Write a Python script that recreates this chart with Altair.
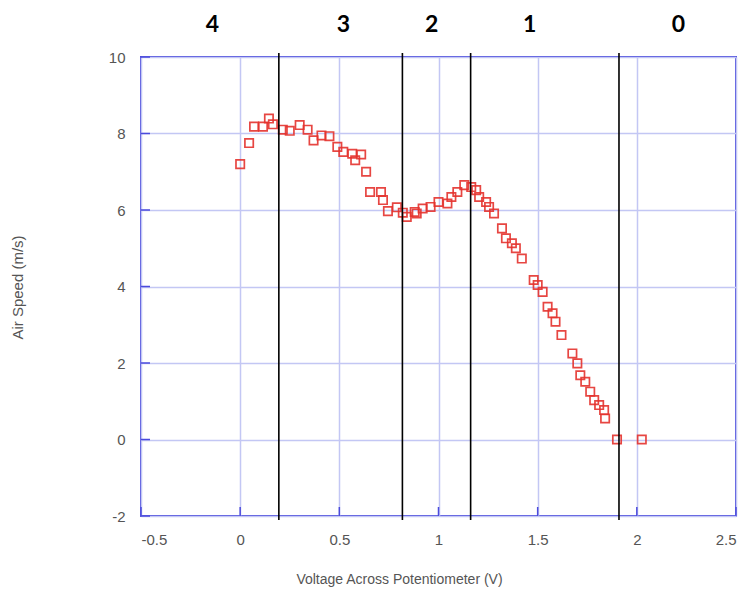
import altair as alt
import pandas as pd

# measured data (voltage V, air speed m/s)
volts = [0.0, 0.045, 0.07, 0.115, 0.145, 0.165, 0.215, 0.25, 0.30, 0.34, 0.37, 0.41, 0.45, 0.49,
         0.52, 0.565, 0.58, 0.61, 0.635, 0.655, 0.71, 0.72, 0.745, 0.79, 0.82, 0.84, 0.88, 0.89,
         0.92, 0.96, 1.0, 1.045, 1.065, 1.095, 1.13, 1.165, 1.19, 1.205, 1.24, 1.255, 1.28, 1.32,
         1.34, 1.37, 1.39, 1.42, 1.48, 1.50, 1.525, 1.55, 1.575, 1.59, 1.62, 1.675, 1.70, 1.715,
         1.74, 1.765, 1.785, 1.81, 1.835, 1.84, 1.90, 2.025]
speeds = [7.2, 7.75, 8.18, 8.18, 8.39, 8.24, 8.1, 8.07, 8.22, 8.1, 7.82, 7.95, 7.93, 7.65,
          7.52, 7.47, 7.3, 7.45, 7.0, 6.47, 6.47, 6.26, 5.97, 6.07, 5.93, 5.82, 5.95, 5.91,
          6.04, 6.08, 6.21, 6.17, 6.34, 6.47, 6.65, 6.6, 6.52, 6.34, 6.21, 6.08, 5.91, 5.52,
          5.26, 5.13, 5.0, 4.73, 4.17, 4.04, 3.86, 3.47, 3.3, 3.08, 2.73, 2.25, 1.99, 1.68,
          1.51, 1.25, 1.03, 0.9, 0.77, 0.55, 0.0, 0.0]

# region boundaries and region labels
boundaries = [0.195, 0.818, 1.162, 1.91]
region_x = [-0.14, 0.52, 0.965, 1.46, 2.21]
region_labels = ["4", "3", "2", "1", "0"]

x_ticks = [-0.5, 0, 0.5, 1, 1.5, 2, 2.5]
y_ticks = [-2, 0, 2, 4, 6, 8, 10]

W, H = 595, 459
FRAME = "#4b4bdc"
GRID = "#c3c7f4"
TXT = "#555555"

pts = pd.DataFrame({"v": volts, "s": speeds})
bnd = pd.DataFrame({"b": boundaries})
lab = pd.DataFrame({"x": region_x, "t": region_labels})
yt = pd.DataFrame({"y": y_ticks})
xt = pd.DataFrame({"x": x_ticks})

xscale = alt.Scale(domain=[-0.5, 2.5], nice=False, zero=False)
yscale = alt.Scale(domain=[-2, 10], nice=False, zero=False)

xaxis = alt.Axis(values=x_ticks, labelExpr="'' + datum.value", title="Voltage Across Potentiometer (V)",
                 grid=True, gridColor=GRID, gridWidth=1.5, ticks=False, domain=False,
                 labelPadding=16, labelFontSize=15, labelColor=TXT, labelFont="Liberation Sans",
                 titleFont="Liberation Sans", titleFontSize=14, titleFontWeight="normal",
                 titleColor=TXT, titleX=258, titleY=63, titleBaseline="middle", titleAlign="center")
yaxis = alt.Axis(values=y_ticks, labelExpr="'' + datum.value", title="Air Speed (m/s)",
                 grid=True, gridColor=GRID, gridWidth=1.5, ticks=False, domain=False,
                 labelPadding=16, labelFontSize=15, labelColor=TXT, labelFont="Liberation Sans",
                 titleFont="Liberation Sans", titleFontSize=15, titleFontWeight="normal",
                 titleColor=TXT, titleX=-124, titleY=230, titleBaseline="middle", titleAlign="center")

points = alt.Chart(pts).mark_point(shape="square", filled=False, size=70, strokeWidth=1.7,
                                   color="#e5332e", opacity=0.9).encode(
    x=alt.X("v:Q", scale=xscale, axis=xaxis),
    y=alt.Y("s:Q", scale=yscale, axis=yaxis),
)

yticks = alt.Chart(yt).mark_rule(color=FRAME, strokeWidth=1.5).encode(
    y=alt.Y("y:Q", scale=yscale), x=alt.value(0), x2=alt.value(9))
xticks = alt.Chart(xt).mark_rule(color=FRAME, strokeWidth=1.5).encode(
    x=alt.X("x:Q", scale=xscale), y=alt.value(H), y2=alt.value(H - 9))

rules = alt.Chart(bnd).mark_rule(color="black", strokeWidth=1.6).encode(
    x=alt.X("b:Q", scale=xscale), y=alt.value(-4), y2=alt.value(H + 4))

texts = alt.Chart(lab).mark_text(fontSize=23, fontWeight="bold", font="Lato", color="black",
                                 baseline="middle", align="center").encode(
    x=alt.X("x:Q", scale=xscale), y=alt.value(-32), text="t:N")

chart = alt.layer(yticks, xticks, points, rules, texts).properties(
    width=W, height=H,
    background="white",
    autosize=alt.AutoSizeParams(type="none"),
    padding={"left": 133, "top": 49, "right": 5, "bottom": 73},
).configure_view(stroke=FRAME, strokeWidth=2)

chart.save("out.html", embed_options={"renderer": "svg", "actions": False})
